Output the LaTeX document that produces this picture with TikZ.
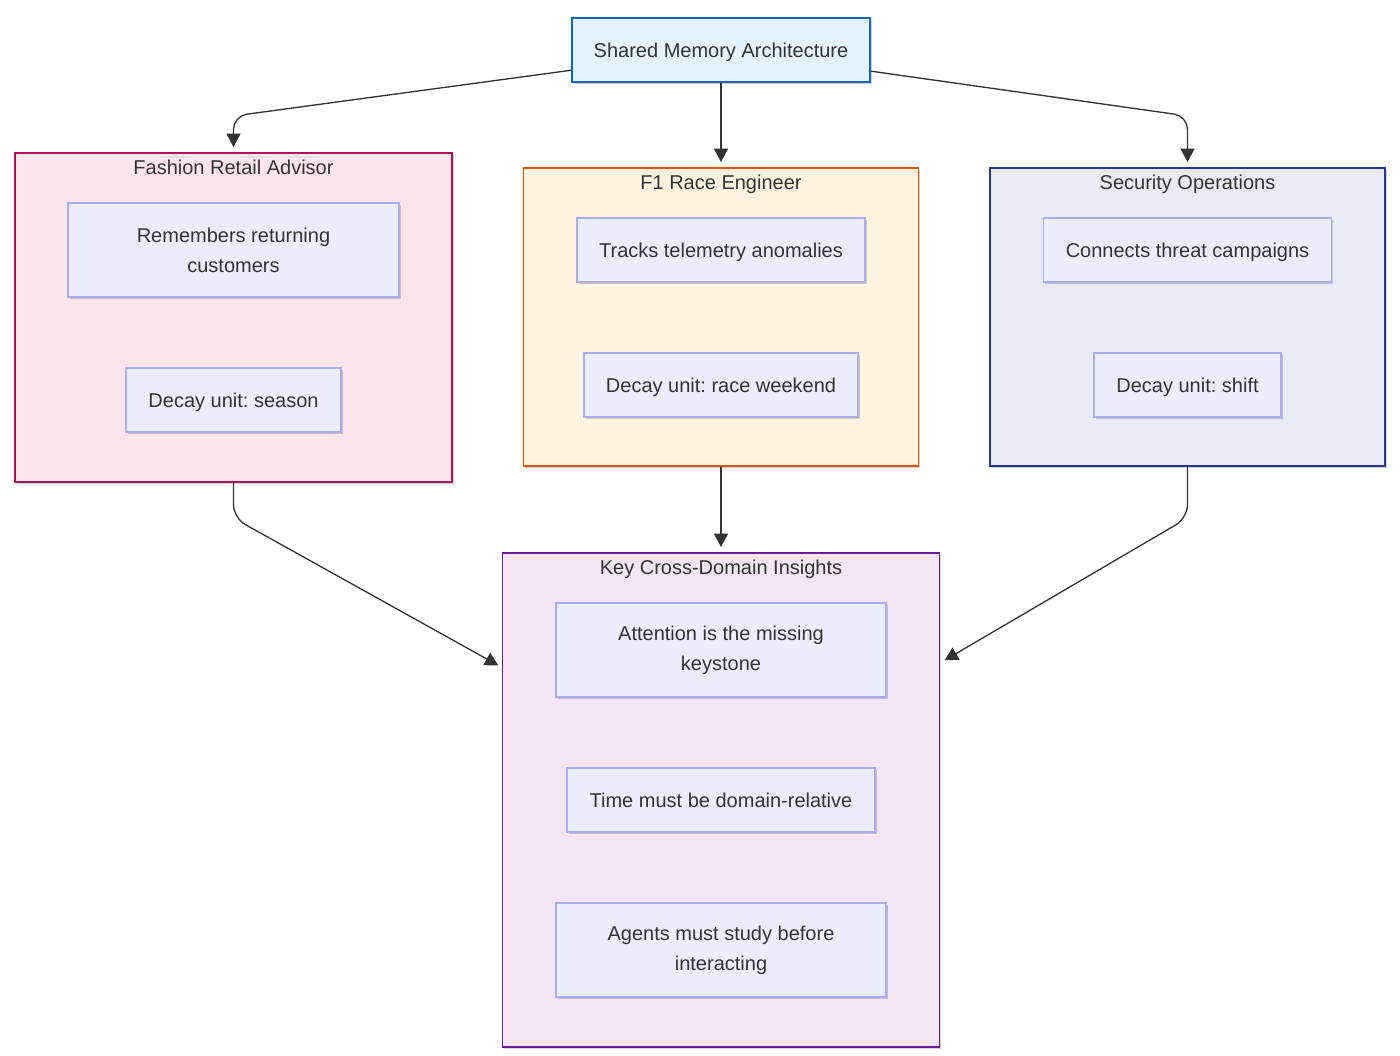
\documentclass[tikz,border=0pt]{standalone}
\usepackage{fontspec}
\setmainfont{Liberation Sans}
\usetikzlibrary{arrows.meta,shadows}
\frenchspacing
\definecolor{txt}{HTML}{333333}
\definecolor{topfill}{HTML}{E3F2FD}
\definecolor{topline}{HTML}{1565C0}
\definecolor{fashfill}{HTML}{FCE4EC}
\definecolor{fashline}{HTML}{AD1457}
\definecolor{fonefill}{HTML}{FFF3E0}
\definecolor{foneline}{HTML}{E65100}
\definecolor{secfill}{HTML}{E8EAF6}
\definecolor{secline}{HTML}{283593}
\definecolor{insfill}{HTML}{F3E5F5}
\definecolor{insline}{HTML}{6A1B9A}
\definecolor{itemfill}{HTML}{ECECFF}
\definecolor{itemline}{HTML}{ABABF5}
\begin{document}
\begin{tikzpicture}[x=0.75pt,y=-0.75pt,
  font=\fontsize{15}{22.5}\selectfont, text=txt,
  softshadow/.style={drop shadow={shadow xshift=1.2pt,shadow yshift=-1.2pt,opacity=0.18,fill=black}},
  sz/.style 2 args={minimum width=#1*0.75pt, minimum height=#2*0.75pt},
  oneline/.style={text height=10.7pt, text depth=0pt},
  cluster/.style={draw, line width=1pt, inner sep=0pt, softshadow},
  item/.style={draw=itemline, fill=itemfill, line width=1.1pt, inner sep=0pt, align=center, softshadow},
  ttl/.style={inner sep=0pt, anchor=center, oneline},
  arr/.style={draw=txt, line width=1pt, -{Triangle[length=10pt,width=10.5pt]}, rounded corners=10pt, shorten >=4pt}]
\useasboundingbox (0,0) rectangle (1400,1056);

% top node
\node[cluster, draw=topline, fill=topfill, sz={298}{64}, oneline] (top) at (721,50) {Shared Memory Architecture};

% clusters
\node[cluster, draw=fashline, fill=fashfill, sz={437}{329}] (fashion) at (233.5,317.5) {};
\node[ttl] (fashionT) at (233.5,167) {Fashion Retail Advisor};
\node[cluster, draw=foneline, fill=fonefill, sz={395}{298}] (fone) at (721,317) {};
\node[ttl] (foneT) at (721,182) {F1 Race Engineer};
\node[cluster, draw=secline, fill=secfill, sz={395}{298}] (sec) at (1187.5,317) {};
\node[ttl] (secT) at (1187.5,182) {Security Operations};
\node[cluster, draw=insline, fill=insfill, sz={437}{494}] (ins) at (721,800) {};
\node[ttl] (insT) at (721,567) {Key Cross-Domain Insights};

% items
\node[item, sz={331}{94}] (f1) at (233.5,250) {Remembers returning\\customers};
\node[item, sz={215}{64}, oneline] (f2) at (233.5,400) {Decay unit: season};
\node[item, sz={288}{64}, oneline] (r1) at (721,250) {Tracks telemetry anomalies};
\node[item, sz={274}{64}, oneline] (r2) at (721,385) {Decay unit: race weekend};
\node[item, sz={288}{64}, oneline] (s1) at (1187.5,250) {Connects threat campaigns};
\node[item, sz={187}{64}, oneline] (s2) at (1187.5,385) {Decay unit: shift};
\node[item, sz={330}{94}] (k1) at (721,650) {Attention is the missing\\keystone};
\node[item, sz={308}{64}, oneline] (k2) at (721,800) {Time must be domain-relative};
\node[item, sz={330}{94}] (k3) at (721,950) {Agents must study before\\interacting};

% connectors
\coordinate (c1) at (233.5,116);
\coordinate (c2) at (1187.5,116);
\coordinate (c3) at (233.5,518);
\coordinate (c4) at (1187.5,518);
\coordinate (inL) at (503,668);
\coordinate (inR) at (940,663);

\draw[arr] (top) -- (c1) -- (fashion.north);
\draw[arr] (top) -- (fone.north);
\draw[arr] (top) -- (c2) -- (sec.north);
\draw[arr] (fashion.south) -- (c3) -- (inL);
\draw[arr] (fone.south) -- (ins.north);
\draw[arr] (sec.south) -- (c4) -- (inR);
\end{tikzpicture}
\end{document}
